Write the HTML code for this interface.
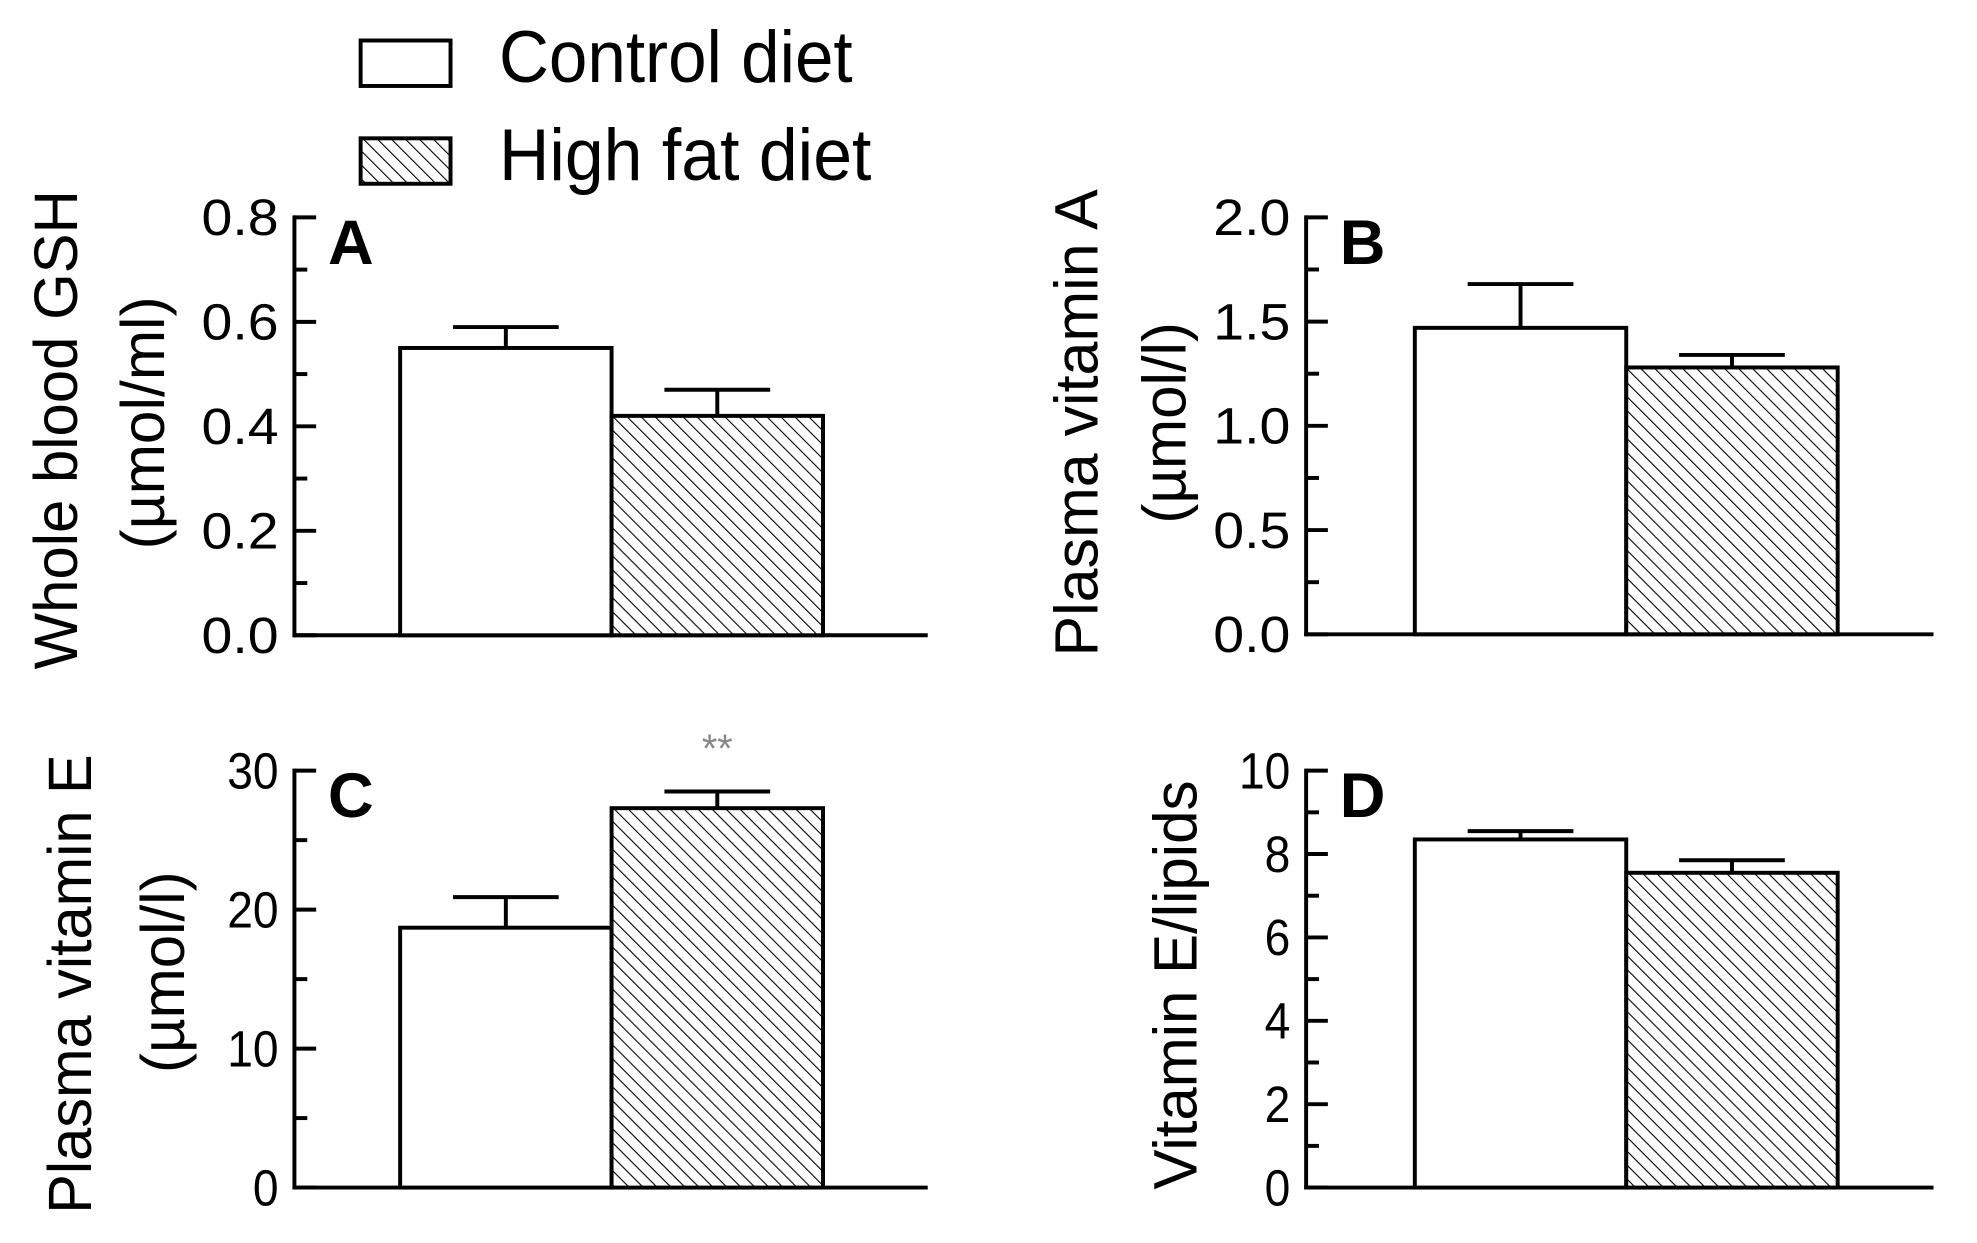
<!DOCTYPE html>
<html><head><meta charset="utf-8"><style>
html,body{margin:0;padding:0;background:#fff;}
svg{display:block;font-family:"Liberation Sans",sans-serif;}
</style></head><body>
<svg width="1977" height="1243" viewBox="0 0 1977 1243">
<defs>
<pattern id="hatch" patternUnits="userSpaceOnUse" width="10" height="10" patternTransform="rotate(-45)">
<rect width="10" height="10" fill="#fff"/>
<line x1="0" y1="0" x2="0" y2="10" stroke="#000" stroke-width="2.2"/>
</pattern>
</defs>
<g id="fig" transform="scale(0.988)">
<g>
<rect x="365" y="41" width="91" height="46" fill="#fff" stroke="#000" stroke-width="4"/>
<text x="505" y="83" font-size="74" textLength="358" lengthAdjust="spacingAndGlyphs">Control diet</text>
<rect x="365" y="140" width="91" height="46" fill="url(#hatch)" stroke="#000" stroke-width="4"/>
<text x="505" y="182" font-size="74" textLength="377" lengthAdjust="spacingAndGlyphs">High fat diet</text>
</g>
</g>
</svg>
<script>
const panelLetters = ["A","B","C","D"];
const controlValues = [0.55, 1.47, 18.7, 8.35];
const controlErrors = [0.59, 1.68, 20.9, 8.55];
const highFatValues = [0.42, 1.28, 27.3, 7.55];
const highFatErrors = [0.47, 1.34, 28.5, 7.85];
const yMax = [0.8, 2.0, 30, 10];
const yStep = [0.2, 0.5, 10, 2];
const tickLabelsA = ["0.0","0.2","0.4","0.6","0.8"];
const tickLabelsB = ["0.0","0.5","1.0","1.5","2.0"];
const tickLabelsC = ["0","10","20","30"];
const tickLabelsD = ["0","2","4","6","8","10"];
const tickLabels = [tickLabelsA, tickLabelsB, tickLabelsC, tickLabelsD];
const titleLine1 = ["Whole blood GSH","Plasma vitamin A","Plasma vitamin E","Vitamin E/lipids"];
const titleLine2 = ["(\u00b5mol/ml)","(\u00b5mol/l)","(\u00b5mol/l)",""];
const significance = ["","","**",""];

const layout = [
 {ax:298, top:220, bot:643, end:939, b0:405, b1:619, b2:833, t1x:56, t1y:435, t1w:485, t2x:144, t2y:428, t2w:256},
 {ax:1322, top:220, bot:642, end:1957, b0:1432, b1:1646, b2:1860, t1x:1089, t1y:428, t1w:473, t2x:1178, t2y:428, t2w:204},
 {ax:298, top:780, bot:1202, end:939, b0:405, b1:619, b2:833, t1x:70, t1y:996, t1w:465, t2x:164, t2y:984, t2w:204},
 {ax:1322, top:780, bot:1202, end:1957, b0:1432, b1:1646, b2:1860, t1x:1189, t1y:997, t1w:414, t2x:0, t2y:0, t2w:0}
];
const NS = "http://www.w3.org/2000/svg";
const svg = document.getElementById("fig");
function mk(tag, attrs, parent){const e=document.createElementNS(NS,tag);for(const k in attrs)e.setAttribute(k,attrs[k]);parent.appendChild(e);return e;}

for(let p=0;p<4;p++){
  const L = layout[p];
  const g = mk("g",{},svg);
  
  
  const y = v => L.bot - (v / yMax[p]) * (L.bot - L.top);
  const ya = mk("line",{x1:L.ax,y1:L.top-2,x2:L.ax,y2:L.bot+2,stroke:"#000","stroke-width":4},g);
  
  
  const xa = mk("line",{x1:L.ax-2,y1:L.bot,x2:L.end,y2:L.bot,stroke:"#000","stroke-width":4},g);
  
  
  const labels = tickLabels[p];
  for(let i=0;i<labels.length;i++){
    const v = i*yStep[p];
    const ty = y(v);
    const t = mk("line",{x1:L.ax,y1:ty,x2:L.ax+22,y2:ty,stroke:"#000","stroke-width":4},g);
    
    
    const tl = mk("text",{x:L.ax-16,y:ty+18,"font-size":52,"text-anchor":"end",fill:"#000",textLength:labels[i].length*26,lengthAdjust:"spacingAndGlyphs"},g);
    tl.textContent = labels[i];
    
    
    if(i<labels.length-1){
      const my = y(v+yStep[p]/2);
      const m = mk("line",{x1:L.ax,y1:my,x2:L.ax+13,y2:my,stroke:"#000","stroke-width":4},g);
      
      
    }
  }
  const vals = [controlValues[p], highFatValues[p]];
  const errs = [controlErrors[p], highFatErrors[p]];
  const xs = [[L.b0,L.b1],[L.b1,L.b2]];
  for(let b=0;b<2;b++){
    const x0=xs[b][0], x1=xs[b][1], cx=(x0+x1)/2, w=x1-x0;
    const ev = mk("line",{x1:cx,y1:y(errs[b]),x2:cx,y2:y(vals[b]),stroke:"#000","stroke-width":4},g);
    
    
    const ec = mk("line",{x1:cx-w/4,y1:y(errs[b]),x2:cx+w/4,y2:y(errs[b]),stroke:"#000","stroke-width":4},g);
    
    
    const r = mk("rect",{x:x0,y:y(vals[b]),width:w,height:L.bot-y(vals[b]),fill:b===0?"#fff":"url(#hatch)",stroke:"#000","stroke-width":4},g);
    
    
    if(b===1 && significance[p]){
      const s = mk("text",{x:cx,y:y(errs[b])-30,"font-size":40,"text-anchor":"middle",fill:"#888"},g);
      s.textContent = significance[p];
      
      
    }
  }
  const pl = mk("text",{x:L.ax+34,y:L.top+47,"font-size":64,"font-weight":"bold",fill:"#000"},g);
  pl.textContent = panelLetters[p];
  
  
  const t1 = mk("text",{x:0,y:0,"font-size":62,"text-anchor":"middle",fill:"#000",textLength:L.t1w,lengthAdjust:"spacingAndGlyphs",transform:`translate(${L.t1x+22},${L.t1y}) rotate(-90)`},g);
  t1.textContent = titleLine1[p];
  
  
  if(titleLine2[p]){
    const t2 = mk("text",{x:0,y:0,"font-size":62,"text-anchor":"middle",fill:"#000",textLength:L.t2w,lengthAdjust:"spacingAndGlyphs",transform:`translate(${L.t2x+22},${L.t2y}) rotate(-90)`},g);
    t2.textContent = titleLine2[p];
    
    
  }
}
</script>
</body></html>
